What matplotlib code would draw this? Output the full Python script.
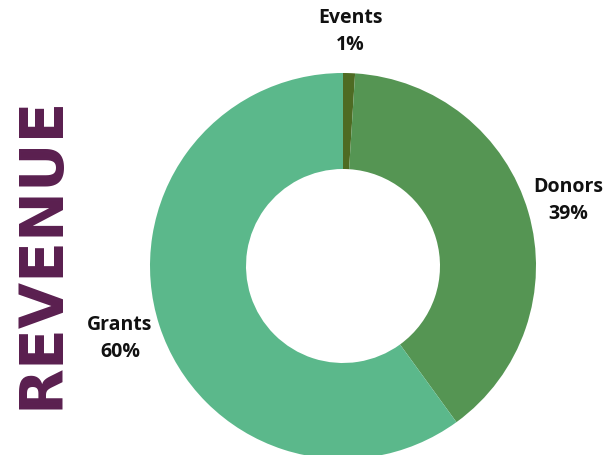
import matplotlib.pyplot as plt

sources = ['Events', 'Donors', 'Grants']
shares = [1, 39, 60]
colors = ['#4e6b23', '#559553', '#5bb88b']
label_pos = [(350, 18), (568, 187), (120, 325)]

W, H = 605, 455
fig = plt.figure(figsize=(W / 100, H / 100), dpi=100)
ax = fig.add_axes([0, 0, 1, 1])
ax.set_xlim(0, W)
ax.set_ylim(0, H)
ax.set_aspect('equal')
ax.axis('off')

ax.pie(shares, colors=colors, center=(343, H - 266), radius=193,
       startangle=90, counterclock=False, frame=True,
       wedgeprops=dict(width=96, linewidth=0))
ax.set_xlim(0, W)
ax.set_ylim(0, H)
ax.axis('off')

for name, pct, (x, y) in zip(sources, shares, label_pos):
    ax.text(x, H - y, name, ha='center', va='center', fontsize=14,
            fontweight='bold', family='Open Sans', color='#111111')
    ax.text(x, H - y - 27, f'{pct}%', ha='center', va='center', fontsize=14,
            fontweight='bold', family='Open Sans', color='#111111')

ax.text(42, H - 252, 'REVENUE', rotation=90, ha='center', va='center',
        fontsize=43, fontweight='bold', family='DejaVu Sans', color='#5a1f4f')

fig.savefig('out.png', dpi=100)
